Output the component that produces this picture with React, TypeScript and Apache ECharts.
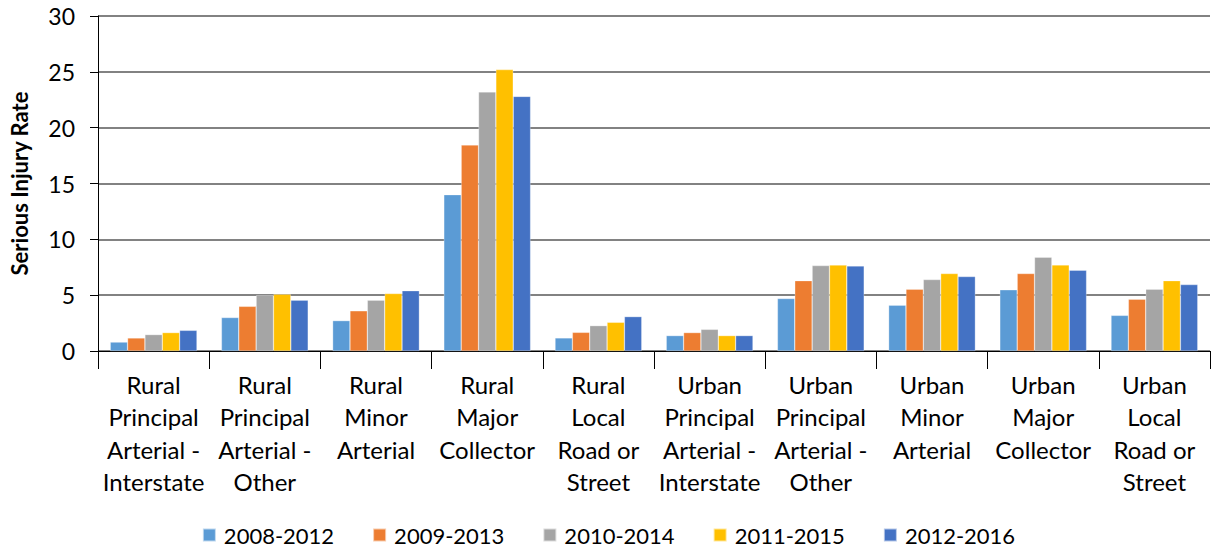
import React, { useEffect, useRef } from "react";
import * as echarts from "echarts";

const categories = [
  "Rural\nPrincipal\nArterial -\nInterstate",
  "Rural\nPrincipal\nArterial -\nOther",
  "Rural\nMinor\nArterial",
  "Rural\nMajor\nCollector",
  "Rural\nLocal\nRoad or\nStreet",
  "Urban\nPrincipal\nArterial -\nInterstate",
  "Urban\nPrincipal\nArterial -\nOther",
  "Urban\nMinor\nArterial",
  "Urban\nMajor\nCollector",
  "Urban\nLocal\nRoad or\nStreet",
];

const seriesNames = ["2008-2012", "2009-2013", "2010-2014", "2011-2015", "2012-2016"];

const s2008_2012 = [0.8, 3.0, 2.72, 14.0, 1.17, 1.38, 4.7, 4.1, 5.48, 3.19];
const s2009_2013 = [1.17, 4.0, 3.6, 18.45, 1.67, 1.65, 6.3, 5.54, 6.94, 4.64];
const s2010_2014 = [1.47, 5.0, 4.55, 23.2, 2.27, 1.94, 7.65, 6.4, 8.4, 5.54];
const s2011_2015 = [1.65, 5.09, 5.15, 25.2, 2.57, 1.38, 7.7, 6.94, 7.71, 6.3];
const s2012_2016 = [1.85, 4.55, 5.4, 22.8, 3.08, 1.38, 7.62, 6.67, 7.23, 5.95];

const seriesValues = [s2008_2012, s2009_2013, s2010_2014, s2011_2015, s2012_2016];
const colors = ["#5B9BD5", "#ED7D31", "#A5A5A5", "#FFC000", "#4472C4"];

const FONT = "Lato, 'Open Sans', sans-serif";

export default function App() {
  const ref = useRef<HTMLDivElement>(null);
  useEffect(() => {
    if (!ref.current) return;
    const chart = echarts.init(ref.current, undefined, { renderer: "svg" });
    chart.setOption({
      animation: false,
      color: colors,
      textStyle: { fontFamily: FONT },
      grid: { left: 96, right: 7, top: 16, bottom: 203, containLabel: false },
      legend: {
        bottom: 3,
        left: "center",
        itemWidth: 13,
        itemHeight: 13,
        itemGap: 38,
        icon: "rect",
        textStyle: { fontSize: 22, color: "#000", fontFamily: FONT, padding: [0, 0, 0, 3] },
        data: seriesNames,
      },
      xAxis: {
        type: "category",
        data: categories,
        axisLine: { lineStyle: { color: "#000", width: 1 } },
        axisTick: { show: true, length: 18, lineStyle: { color: "#000" } },
        axisLabel: {
          interval: 0,
          fontSize: 24,
          lineHeight: 32.5,
          color: "#000",
          margin: 17,
          fontFamily: FONT,
        },
      },
      yAxis: {
        type: "value",
        min: 0,
        max: 30,
        interval: 5,
        name: "Serious Injury Rate",
        nameLocation: "middle",
        nameGap: 68,
        nameTextStyle: { fontSize: 22, fontWeight: "bold", color: "#000", fontFamily: FONT },
        axisLine: { show: true, lineStyle: { color: "#000", width: 1 } },
        axisTick: { show: true, length: 8, lineStyle: { color: "#000" } },
        axisLabel: { fontSize: 23, color: "#000", margin: 23, fontFamily: FONT },
        splitLine: { lineStyle: { color: "#595959", width: 1.5 } },
      },
      series: seriesNames.map((name, i) => ({
        name,
        type: "bar",
        data: seriesValues[i],
        barGap: "0%",
        barCategoryGap: "22%",
        itemStyle: { color: colors[i], borderColor: "rgba(255,255,255,0.6)", borderWidth: 0.5 },
      })),
    });
    return () => chart.dispose();
  }, []);
  return <div ref={ref} style={{ width: 1217, height: 554, position: "absolute", left: 0, top: 0 }} />;
}
